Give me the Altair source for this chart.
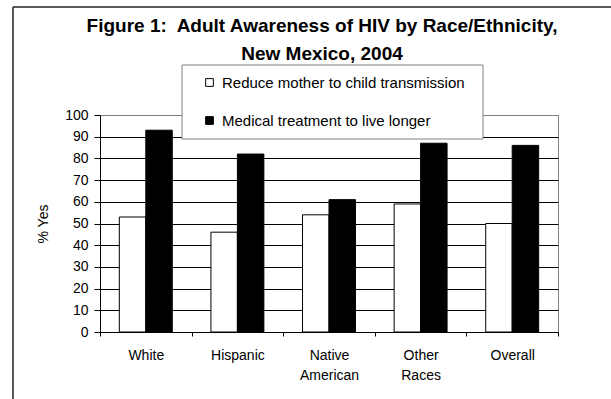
import altair as alt
import pandas as pd

# Survey results: share of adults answering "yes", by race/ethnicity
groups = ["White", "Hispanic", "Native American", "Other Races", "Overall"]
series = ["Reduce mother to child transmission", "Medical treatment to live longer"]
reduce_transmission = [53, 46, 54, 59, 50]
live_longer = [93, 82, 61, 87, 86]
y_ticks = [0, 10, 20, 30, 40, 50, 60, 70, 80, 90, 100]
title_lines = ["Figure 1:\u00a0 Adult Awareness of HIV by Race/Ethnicity,", "New Mexico, 2004"]

rows = []
for g, a, b in zip(groups, reduce_transmission, live_longer):
    rows.append({"group": g, "series": series[0], "pct": a})
    rows.append({"group": g, "series": series[1], "pct": b})
df = pd.DataFrame(rows)
one = pd.DataFrame({"k": [0]})

FONT = "Liberation Sans"
W, H = 458, 217
PAD_L, PAD_T = 100, 115

bars = alt.Chart(df).mark_bar(stroke="black", strokeWidth=1).encode(
    x=alt.X(
        "group:N",
        sort=groups,
        scale=alt.Scale(paddingInner=0, paddingOuter=0),
        axis=alt.Axis(
            title=None,
            labelExpr="split(datum.label, ' ')",
            labelAngle=0,
            labelFont=FONT,
            labelFontSize=14,
            labelLineHeight=20,
            labelColor="black",
            labelPadding=12,
            tickBand="extent",
            tickSize=4,
            tickColor="black",
            domainColor="black",
            grid=False,
        ),
    ),
    xOffset=alt.XOffset(
        "series:N", sort=series, scale=alt.Scale(paddingInner=0, paddingOuter=0.73)
    ),
    y=alt.Y(
        "pct:Q",
        scale=alt.Scale(domain=[0, 100], nice=False),
        axis=alt.Axis(
            values=y_ticks,
            title="% Yes",
            titleFont=FONT,
            titleFontSize=14,
            titleFontWeight="normal",
            titleColor="black",
            titlePadding=14,
            labelFont=FONT,
            labelFontSize=14,
            labelColor="black",
            labelPadding=6,
            tickSize=6,
            tickColor="black",
            domainColor="black",
            grid=True,
            gridColor={"condition": {"test": "datum.value >= 100", "value": "#808080"}, "value": "black"},
            gridWidth=1,
            gridOpacity=1,
        ),
    ),
    fill=alt.Fill(
        "series:N",
        sort=series,
        scale=alt.Scale(domain=series, range=["white", "black"]),
        legend=alt.Legend(
            title=None,
            orient="none",
            legendX=102,
            legendY=-40,
            padding=0,
            rowPadding=22,
            symbolType="square",
            symbolSize=60,
            symbolStrokeColor="black",
            symbolStrokeWidth=1,
            labelFont=FONT,
            labelFontSize=15,
            labelColor="black",
            labelOffset=5,
            labelLimit=400,
        ),
    ),
)

# legend frame
legend_box = alt.Chart(one).mark_rect(fill="white", stroke="#808080", strokeWidth=1).encode(
    x=alt.value(82), x2=alt.value(383), y=alt.value(-50), y2=alt.value(24)
)

# outer figure frame (left and top edges)
frame_left = alt.Chart(one).mark_rule(color="#222222", strokeWidth=1.5).encode(
    x=alt.value(13 - PAD_L), y=alt.value(7 - PAD_T), y2=alt.value(400 - PAD_T)
)
frame_top = alt.Chart(one).mark_rule(color="#222222", strokeWidth=1.5).encode(
    x=alt.value(13 - PAD_L), x2=alt.value(611 - PAD_L), y=alt.value(7 - PAD_T)
)

title1 = alt.Chart(one).mark_text(
    font=FONT, fontSize=19, fontWeight="bold", color="black", align="center", baseline="middle"
).encode(x=alt.value(322 - PAD_L), y=alt.value(26 - PAD_T), text=alt.value(title_lines[0]))
title2 = alt.Chart(one).mark_text(
    font=FONT, fontSize=19, fontWeight="bold", color="black", align="center", baseline="middle"
).encode(x=alt.value(322 - PAD_L), y=alt.value(54 - PAD_T), text=alt.value(title_lines[1]))

chart = alt.layer(bars, legend_box, frame_left, frame_top, title1, title2).properties(
    width=W,
    height=H,
    autosize="none",
    padding={"left": PAD_L, "top": PAD_T, "right": 611 - PAD_L - W, "bottom": 399 - PAD_T - H},
    background="white",
).configure_view(stroke="#808080", strokeWidth=1)

chart.save("out.html", embed_options={"renderer": "svg", "actions": False})
